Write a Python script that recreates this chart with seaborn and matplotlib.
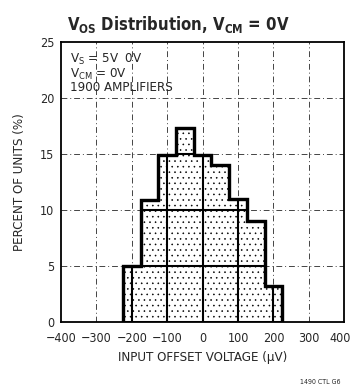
import numpy as np
import seaborn as sns
import matplotlib
import matplotlib.pyplot as plt
import matplotlib.transforms as mtrans

# binned Vos distribution (percent of units per 50uV bin)
bin_centers = [-200, -150, -100, -50, 0, 50, 100, 150, 200]
bin_edges = [-225, -175, -125, -75, -25, 25, 75, 125, 175, 225]
percent = [5.0, 10.9, 14.9, 17.3, 14.9, 14.0, 11.0, 9.0, 3.2]
x_ticks = [-400, -300, -200, -100, 0, 100, 200, 300, 400]
y_ticks = [0, 5, 10, 15, 20, 25]
notes = [r"V$_\mathregular{S}$ = 5V  0V", r"V$_\mathregular{CM}$ = 0V", "1900 AMPLIFIERS"]

sns.set_style('white')
matplotlib.rcParams['font.family'] = ['DejaVu Sans']
matplotlib.rcParams['font.stretch'] = 'condensed'
matplotlib.rcParams['hatch.color'] = '#6a6a6a'
matplotlib.rcParams['hatch.linewidth'] = 0.4

fig = plt.figure(figsize=(3.53, 3.91), dpi=100)
ax = fig.add_axes([0.173, 0.177, 0.802, 0.716])

# dashed background grid
for xv in x_ticks[1:-1]:
    ax.axvline(xv, color='#444444', lw=0.7, ls=(0, (6, 3, 1, 3)), zorder=0)
for yv in y_ticks[1:-1]:
    ax.axhline(yv, color='#444444', lw=0.7, ls=(0, (6, 3, 1, 3)), zorder=0)

sns.histplot(x=bin_centers, weights=percent, bins=bin_edges, element='step',
             fill=True, color='white', edgecolor='black', linewidth=2.2,
             alpha=1, ax=ax, zorder=2)
poly = ax.collections[0]
poly.set_hatch('...')
poly.set_edgecolor('black')

# solid grid lines inside the shaded area
clip_path = poly.get_paths()[0]
clip_tr = poly.get_transform()
for xv in x_ticks[1:-1]:
    ln = ax.axvline(xv, color='black', lw=1.5, zorder=3)
    ln.set_clip_path(clip_path, clip_tr)
for yv in y_ticks[1:-1]:
    ln = ax.axhline(yv, color='black', lw=1.5, zorder=3)
    ln.set_clip_path(clip_path, clip_tr)

# outline on top
ax.stairs(percent, bin_edges, color='black', lw=2.4, zorder=4)

ax.set_xlim(-400, 400)
ax.set_ylim(0, 25)
ax.set_xticks(x_ticks)
ax.set_yticks(y_ticks)
ax.set_xticklabels([str(v).replace('-', '\u2212') for v in x_ticks])
ax.tick_params(labelsize=9, length=0)
ax.tick_params(axis='x', pad=7)
ax.tick_params(axis='y', pad=5)
# keep the last x label inside the figure
last = ax.get_xticklabels()[-1]
last.set_transform(last.get_transform() + mtrans.ScaledTranslation(-4 / 100, 0, fig.dpi_scale_trans))
for s in ax.spines.values():
    s.set_color('black')
    s.set_linewidth(1.3)

ax.set_xlabel('INPUT OFFSET VOLTAGE (\u00b5V)', fontsize=9.5, labelpad=5)
ax.set_ylabel('PERCENT OF UNITS (%)', fontsize=9.5, labelpad=10)

for i, t in enumerate(notes):
    ax.text(0.03, 0.965 - i * 0.053, t, transform=ax.transAxes, fontsize=9.5,
            va='top', ha='left')

fig.text(0.505, 0.965, r'V$_\mathregular{OS}$ Distribution, V$_\mathregular{CM}$ = 0V',
         ha='center', va='top', fontsize=12, fontweight='bold')
fig.text(0.965, 0.015, '1490 CTL G6', ha='right', va='bottom', fontsize=5)

fig.savefig('out.png', dpi=100)
